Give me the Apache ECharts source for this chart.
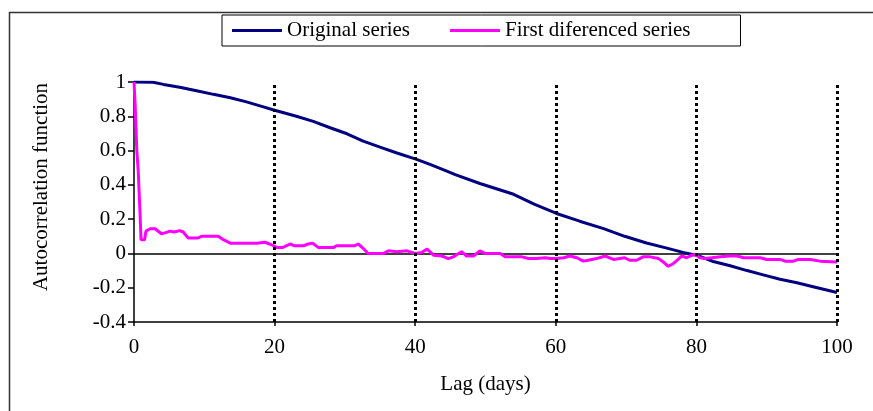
<!DOCTYPE html>
<html>
<head>
<meta charset="utf-8">
<script src="https://cdn.jsdelivr.net/npm/echarts@6/dist/echarts.min.js"></script>
<style>html,body{margin:0;padding:0;background:#fff}#c{width:873px;height:411px}</style>
</head>
<body>
<div id="c"></div>
<script>
const seriesNames = ['Original series', 'First diferenced series'];
const xTicks = [0, 20, 40, 60, 80, 100];
const yTicks = [-0.4, -0.2, 0, 0.2, 0.4, 0.6, 0.8, 1];
const dottedLags = [20, 40, 60, 80, 100];

const originalLags = [0, 2.7, 4.2, 6.5, 8.9, 11.3, 13.7, 16, 18.4, 20, 23.1, 25.5, 27.9, 30.3, 32.6, 35, 37.4, 40.1, 42.1, 44.5, 45.7, 49.2, 54, 57, 60.1, 63.4, 66.8, 69.8, 72.9, 75.8, 78.1, 80.3, 82.4, 84.8, 87.2, 89.5, 91.9, 94.3, 96.6, 100];
const originalValues = [1.0, 0.998, 0.986, 0.969, 0.949, 0.928, 0.908, 0.884, 0.855, 0.835, 0.80, 0.77, 0.733, 0.698, 0.655, 0.62, 0.586, 0.55, 0.52, 0.48, 0.46, 0.408, 0.345, 0.286, 0.233, 0.188, 0.145, 0.10, 0.061, 0.031, 0.006, -0.014, -0.047, -0.072, -0.10, -0.125, -0.151, -0.171, -0.194, -0.228];

const diffLags = [0, 0.15, 0.4, 0.6, 0.85, 1.0, 1.5, 1.7, 2.3, 3.0, 3.9, 4.4, 5.1, 5.7, 6.5, 7.0, 7.7, 9.1, 9.6, 12.0, 12.7, 13.7, 17.5, 18.6, 19.3, 20.3, 21.2, 22.2, 22.8, 24.1, 24.8, 25.4, 26.2, 28.4, 28.8, 31.4, 31.9, 32.6, 33.3, 35.5, 36.2, 37.4, 38.8, 40.0, 40.9, 41.7, 42.6, 43.8, 44.7, 45.4, 46.6, 47.3, 48.3, 49.2, 49.9, 52.1, 52.8, 55.2, 56.1, 57.3, 58.5, 59.2, 60.1, 61.1, 62.0, 63.0, 63.9, 64.6, 65.8, 67.0, 68.2, 69.1, 69.8, 70.5, 71.5, 72.4, 73.4, 74.6, 75.3, 76.0, 76.7, 77.4, 77.9, 78.6, 79.1, 79.8, 80.5, 81.2, 82.2, 83.4, 84.6, 85.8, 86.7, 89.1, 90.0, 91.9, 92.6, 93.8, 94.5, 96.2, 97.6, 100];
const diffValues = [1.0, 0.88, 0.6, 0.48, 0.24, 0.08, 0.08, 0.13, 0.144, 0.144, 0.115, 0.12, 0.13, 0.125, 0.133, 0.125, 0.09, 0.09, 0.10, 0.10, 0.08, 0.06, 0.06, 0.065, 0.055, 0.035, 0.035, 0.055, 0.045, 0.045, 0.055, 0.06, 0.035, 0.035, 0.045, 0.045, 0.055, 0.03, 0.0, 0.0, 0.015, 0.01, 0.015, 0.0, 0.005, 0.025, -0.01, -0.015, -0.03, -0.02, 0.01, -0.015, -0.015, 0.015, 0.0, 0.0, -0.02, -0.02, -0.03, -0.03, -0.025, -0.03, -0.03, -0.025, -0.015, -0.025, -0.045, -0.04, -0.03, -0.015, -0.035, -0.03, -0.025, -0.04, -0.04, -0.02, -0.02, -0.03, -0.05, -0.075, -0.06, -0.035, -0.015, -0.025, -0.015, -0.005, -0.025, -0.03, -0.025, -0.02, -0.015, -0.015, -0.025, -0.025, -0.035, -0.035, -0.045, -0.045, -0.035, -0.035, -0.045, -0.05];

const FONT = "'Liberation Serif', 'Times New Roman', serif";
const FS = 21;
const chart = echarts.init(document.getElementById('c'), null, {renderer: 'canvas'});

chart.setOption({
  animation: false,
  backgroundColor: '#fff',
  graphic: [{
    type: 'rect', left: 7, top: 10, silent: true,
    shape: {x: 0, y: 0, width: 900, height: 500},
    style: {fill: 'none', stroke: '#333', lineWidth: 1.5}
  }],
  legend: {
    data: seriesNames,
    left: 222, top: 15,
    padding: [5, 50, 5, 10],
    borderColor: '#000', borderWidth: 1,
    itemWidth: 50, itemHeight: 3, itemGap: 40,
    icon: 'rect',
    textStyle: {fontFamily: FONT, fontSize: FS, color: '#000'}
  },
  grid: {left: 134, right: 36, top: 82, bottom: 89, containLabel: false},
  xAxis: {
    type: 'value', min: xTicks[0], max: xTicks[xTicks.length - 1], interval: 20,
    name: 'Lag (days)', nameLocation: 'middle', nameGap: 52,
    nameTextStyle: {fontFamily: FONT, fontSize: FS, color: '#000'},
    axisLine: {onZero: false, lineStyle: {color: '#000', width: 1.5}},
    axisTick: {show: true, length: 4, lineStyle: {color: '#000', width: 1.5}},
    axisLabel: {fontFamily: FONT, fontSize: FS, color: '#000', margin: 15},
    splitLine: {show: false}
  },
  yAxis: {
    type: 'value', min: yTicks[0], max: yTicks[yTicks.length - 1], interval: 0.2,
    name: 'Autocorrelation function', nameLocation: 'middle', nameGap: 82,
    nameTextStyle: {fontFamily: FONT, fontSize: FS, color: '#000', padding: [0, 0, 0, 30]},
    axisLine: {show: true, lineStyle: {color: '#000', width: 1.5}},
    axisTick: {show: true, length: 6, lineStyle: {color: '#000', width: 1.5}},
    axisLabel: {fontFamily: FONT, fontSize: FS, color: '#000', margin: 8,
      formatter: v => String(+v.toFixed(1))},
    splitLine: {show: false}
  },
  series: [{
    name: seriesNames[0], type: 'line', showSymbol: false, symbol: 'none',
    data: originalLags.map((l, i) => [l, originalValues[i]]),
    lineStyle: {color: '#000080', width: 3}, itemStyle: {color: '#000080'}, z: 3,
    markLine: {
      silent: true, symbol: 'none', label: {show: false}, z: 1,
      lineStyle: {color: '#000', width: 1.5, type: 'solid'},
      data: [{yAxis: 0}]
    }
  }, {
    name: seriesNames[1], type: 'line', showSymbol: false, symbol: 'none',
    data: diffLags.map((l, i) => [l, diffValues[i]]),
    lineStyle: {color: '#ff00ff', width: 3}, itemStyle: {color: '#ff00ff'}, z: 4,
    markLine: {
      silent: true, symbol: 'none', label: {show: false}, z: 5,
      lineStyle: {color: '#000', width: 3, type: [3, 3]},
      data: dottedLags.map(l => ({xAxis: l}))
    }
  }]
});
</script>
</body>
</html>
